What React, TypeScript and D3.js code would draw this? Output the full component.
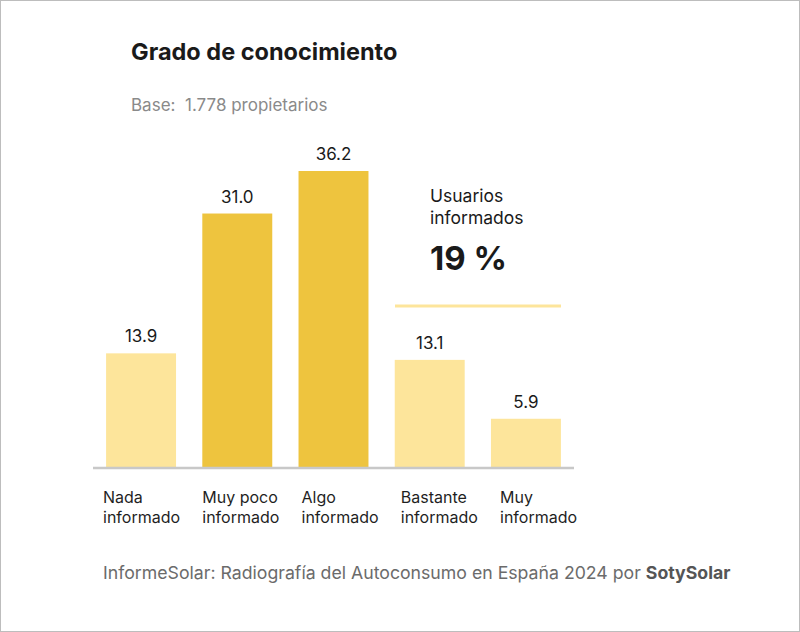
import React from "react";
import * as d3 from "d3";

const categories = ["Nada informado", "Muy poco informado", "Algo informado", "Bastante informado", "Muy informado"];
const labelLine1 = ["Nada", "Muy poco", "Algo", "Bastante", "Muy"];
const labelLine2 = ["informado", "informado", "informado", "informado", "informado"];
const values = [13.9, 31.0, 36.2, 13.1, 5.9];
const highlighted = [false, true, true, false, false];

const title = "Grado de conocimiento";
const subtitle = "Base:  1.778 propietarios";
const calloutLines = ["Usuarios", "informados"];
const calloutValue = "19 %";

const W = 800;
const H = 632;
const baseY = 467;
const FONT = "Inter, 'Noto Sans', sans-serif";

export default function App() {
  const x = d3.scaleBand<string>().domain(categories).range([93, 574]).paddingInner(0.273).paddingOuter(0.136);
  const y = d3.scaleLinear().domain([0, 36.2]).range([baseY, 171]);
  const lx = d3.scalePoint<string>().domain(categories).range([103, 500]);
  const dark = "#EEC43E";
  const light = "#FDE59B";
  return (
    <svg width={W} height={H} style={{ position: "fixed", left: 0, top: 0, background: "#fff" }} fontFamily={FONT}>
      <rect x={0.5} y={0.5} width={W - 1} height={H - 1} fill="#fff" stroke="#bdbdbd" />
      <text x={131} y={60} fontSize={23.5} fontWeight={700} fill="#1a1a1a">{title}</text>
      <text x={131} y={111} fontSize={17} fill="#8a8a8a" style={{ whiteSpace: "pre" }}>{subtitle}</text>
      {categories.map((c, i) => (
        <g key={c}>
          <rect x={x(c)} y={y(values[i])} width={x.bandwidth()} height={baseY - y(values[i])} fill={highlighted[i] ? dark : light} />
          <text x={(x(c) ?? 0) + x.bandwidth() / 2} y={y(values[i]) - 11} textAnchor="middle" fontSize={17} fill="#1a1a1a">
            {values[i].toFixed(1)}
          </text>
          <text x={lx(c)} y={503} fontSize={16} fill="#1f1f1f">{labelLine1[i]}</text>
          <text x={lx(c)} y={523} fontSize={16} fill="#1f1f1f">{labelLine2[i]}</text>
        </g>
      ))}
      <line x1={93} x2={574} y1={468} y2={468} stroke="#c8c8c8" strokeWidth={2.5} />
      <text x={430} y={202} fontSize={17.5} fill="#1a1a1a">{calloutLines[0]}</text>
      <text x={430} y={224} fontSize={17.5} fill="#1a1a1a">{calloutLines[1]}</text>
      <text x={430} y={270} fontSize={33} fontWeight={700} fill="#1a1a1a">{calloutValue}</text>
      <line x1={395} x2={561} y1={306} y2={306} stroke={light} strokeWidth={3} />
      <text x={103} y={579} fontSize={17.7} fill="#6b6b6b">
        InformeSolar: Radiografía del Autoconsumo en España 2024 por <tspan fontWeight={700} fill="#555">SotySolar</tspan>
      </text>
    </svg>
  );
}
